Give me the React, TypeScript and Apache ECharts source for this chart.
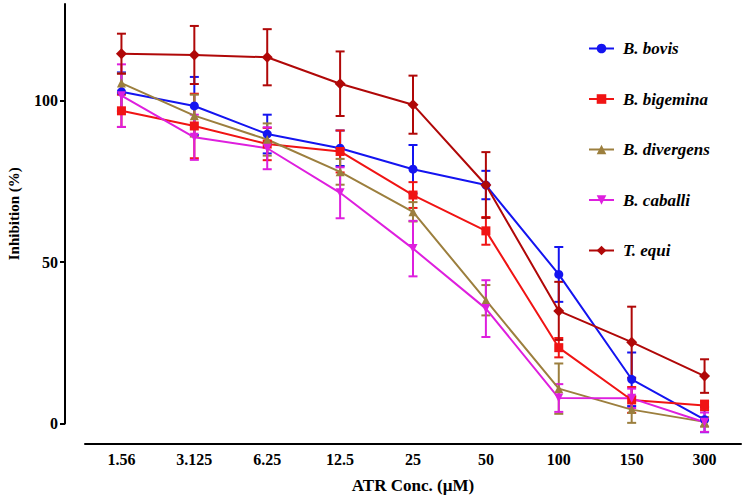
import React, { useEffect, useRef } from "react";
import * as echarts from "echarts";

const categories = ["1.56", "3.125", "6.25", "12.5", "25", "50", "100", "150", "300"];
const seriesNames = ["B. bovis", "B. bigemina", "B. divergens", "B. caballi", "T. equi"];
const bovis = [102.8, 98.4, 89.7, 85.3, 78.8, 73.9, 46.2, 13.7, 1.2];
const bovisErr = [6, 9, 6, 5.5, 7.5, 4.4, 8.5, 8.3, 3.9];
const bigemina = [96.9, 92.2, 86.6, 84.3, 70.8, 59.7, 23.5, 7.3, 5.6];
const bigeminaErr = [5, 10, 5, 6.5, 4, 4.3, 3, 4, 1.5];
const divergens = [105.5, 95.4, 88, 78, 65.6, 38.2, 10.8, 4.3, 0.5];
const divergensErr = [3, 6.5, 5, 4, 3, 4.7, 7.8, 4.1, 1.5];
const caballi = [101.6, 88.7, 85.3, 71.5, 54.2, 35.6, 7.9, 7.8, 0.4];
const caballiErr = [9.7, 7, 6.5, 7.9, 8.6, 8.8, 4.3, 3, 3];
const equi = [114.6, 114.2, 113.5, 105.3, 98.8, 73.9, 34.9, 25.2, 14.7];
const equiErr = [6.2, 9, 8.7, 10, 9, 10.2, 9, 11, 5.2];
const yTicks = [0, 50, 100];

const FONT = "Liberation Serif, Times New Roman, serif";

export default function App() {
  const ref = useRef<HTMLDivElement>(null);
  useEffect(() => {
    if (!ref.current) return;
    const chart = echarts.init(ref.current, null, { renderer: "svg" });
    const values = [bovis, bigemina, divergens, caballi, equi];
    const errs = [bovisErr, bigeminaErr, divergensErr, caballiErr, equiErr];
    const colors = ["#1414F0", "#F01414", "#9C7F3E", "#DE1FDE", "#B00808"];
    const symbols = ["circle", "rect", "triangle", "triangle", "diamond"];
    const sizes = [9, 9, 9, 9, 11];
    const rotates = [0, 0, 0, 180, 0];

    const series: any[] = [];
    values.forEach((vals, i) => {
      series.push({
        name: seriesNames[i] + " err",
        type: "custom",
        z: 2,
        silent: true,
        data: vals.map((v, j) => [j, v - errs[i][j], v + errs[i][j]]),
        renderItem: (params: any, api: any) => {
          const x = api.value(0);
          const lo = api.coord([x, api.value(1)]);
          const hi = api.coord([x, api.value(2)]);
          const w = 4.5;
          const style = { stroke: colors[i], lineWidth: 2 };
          return {
            type: "group",
            children: [
              { type: "line", shape: { x1: lo[0], y1: lo[1], x2: hi[0], y2: hi[1] }, style },
              { type: "line", shape: { x1: lo[0] - w, y1: lo[1], x2: lo[0] + w, y2: lo[1] }, style },
              { type: "line", shape: { x1: hi[0] - w, y1: hi[1], x2: hi[0] + w, y2: hi[1] }, style },
            ],
          };
        },
      });
      series.push({
        name: seriesNames[i],
        type: "line",
        z: 3,
        data: vals,
        symbol: symbols[i],
        symbolSize: sizes[i],
        symbolRotate: rotates[i],
        showAllSymbol: true,
        lineStyle: { color: colors[i], width: 2 },
        itemStyle: { color: colors[i] },
      });
    });

    chart.setOption({
      animation: false,
      grid: { left: 85, right: 4, top: 4, bottom: 76.5, outerBoundsMode: "none", containLabel: false },
      legend: {
        data: seriesNames,
        orient: "vertical",
        left: 583,
        top: 35,
        itemWidth: 25,
        itemHeight: 12,
        itemGap: 33.5,
        textStyle: {
          fontFamily: FONT,
          fontWeight: "bold",
          fontStyle: "italic",
          fontSize: 17,
          color: "#000",
          padding: [0, 0, 0, 4],
        },
      },
      xAxis: {
        type: "category",
        data: categories,
        boundaryGap: true,
        offset: 20,
        name: "ATR Conc. (µM)",
        nameLocation: "middle",
        nameGap: 33,
        nameMoveOverlap: false,
        nameTextStyle: { fontFamily: FONT, fontWeight: "bold", fontSize: 17, color: "#000" },
        axisLine: { onZero: false, lineStyle: { color: "#000", width: 2 } },
        axisTick: { alignWithLabel: true, length: 5, lineStyle: { color: "#000", width: 2 } },
        axisLabel: { fontFamily: FONT, fontWeight: "bold", fontSize: 16, color: "#000", margin: 8 },
        splitLine: { show: false },
      },
      yAxis: {
        type: "value",
        min: 0,
        max: 130,
        interval: 50,
        offset: 20,
        name: "Inhibition (%)",
        nameLocation: "middle",
        nameGap: 44,
        nameMoveOverlap: false,
        nameTextStyle: { fontFamily: FONT, fontWeight: "bold", fontSize: 15, color: "#000" },
        axisLine: { show: true, onZero: false, lineStyle: { color: "#000", width: 2 } },
        axisTick: { show: true, length: 5, customValues: yTicks, lineStyle: { color: "#000", width: 2 } },
        axisLabel: { customValues: yTicks, fontFamily: FONT, fontWeight: "bold", fontSize: 16, color: "#000", margin: 7 },
        splitLine: { show: false },
      },
      series,
    });
    return () => chart.dispose();
  }, []);
  return <div ref={ref} style={{ width: 745, height: 500, position: "absolute", left: 0, top: 0 }} />;
}
